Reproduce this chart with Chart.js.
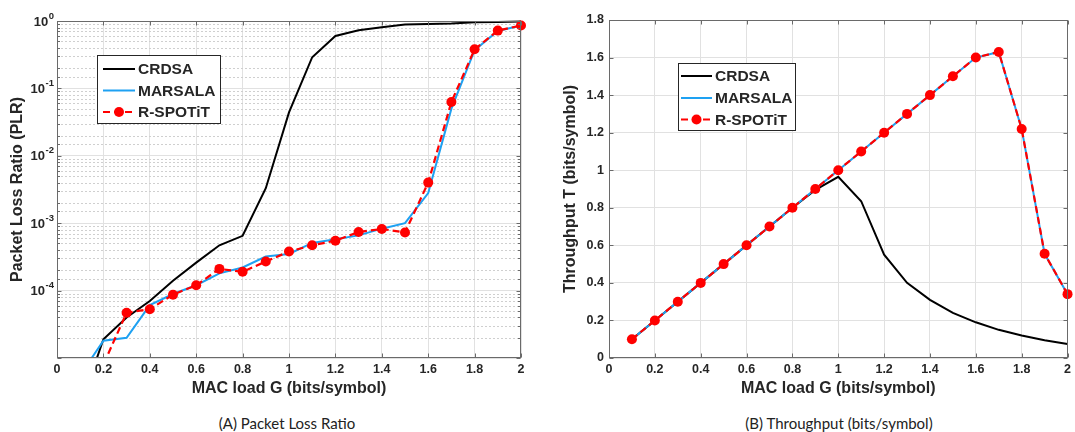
<!DOCTYPE html>
<html><head><meta charset="utf-8">
<script src="https://cdn.jsdelivr.net/npm/chart.js@4.4.1/dist/chart.umd.min.js"></script>
<style>
html,body{margin:0;padding:0;background:#fff;width:1075px;height:432px;overflow:hidden}
#wa{position:absolute;left:0;top:0;width:540px;height:400px}
#wb{position:absolute;left:540px;top:0;width:535px;height:400px}
.cap{position:absolute;top:414px;font-family:Lato,'Open Sans',sans-serif;font-size:15px;color:#222;white-space:nowrap;transform:translateX(-50%)}
</style></head>
<body>
<div id="wa"><canvas id="ca" width="540" height="400"></canvas></div>
<div id="wb"><canvas id="cb" width="535" height="400"></canvas></div>
<div class="cap" style="left:287px">(A) Packet Loss Ratio</div>
<div class="cap" style="left:839px">(B) Throughput (bits/symbol)</div>
<script>
// ---------- data ----------
const loads = [0.1,0.2,0.3,0.4,0.5,0.6,0.7,0.8,0.9,1.0,1.1,1.2,1.3,1.4,1.5,1.6,1.7,1.8,1.9,2.0];
const seriesNames = ['CRDSA','MARSALA','R-SPOTiT'];

const plrCRDSA    = [1.9e-6,1.9e-5,4.0e-5,7.0e-5,1.4e-4,2.6e-4,4.7e-4,6.5e-4,3.3e-3,0.044,0.29,0.60,0.73,0.81,0.89,0.90,0.92,0.96,0.97,0.98];
const plrMARSALA  = [5.6e-6,1.8e-5,2.0e-5,6.1e-5,8.9e-5,1.2e-4,1.8e-4,2.2e-4,3.2e-4,3.5e-4,5.1e-4,5.8e-4,6.6e-4,8.3e-4,1.0e-3,2.8e-3,0.050,0.37,0.71,0.86];
const plrRSPOTiT  = [1.0e-6,8.0e-6,4.7e-5,5.3e-5,8.7e-5,1.2e-4,2.1e-4,1.9e-4,2.7e-4,3.8e-4,4.7e-4,5.5e-4,7.4e-4,8.2e-4,7.3e-4,4.0e-3,0.063,0.38,0.72,0.86];

const thrCRDSA    = [0.1,0.2,0.3,0.4,0.5,0.6,0.7,0.8,0.895,0.965,0.835,0.55,0.40,0.31,0.24,0.19,0.15,0.12,0.095,0.075];
const thrMARSALA  = [0.1,0.2,0.3,0.4,0.5,0.6,0.7,0.8,0.9,1.0,1.1,1.2,1.3,1.4,1.5,1.6,1.63,1.22,0.555,0.34];
const thrRSPOTiT  = [0.1,0.2,0.3,0.4,0.5,0.6,0.7,0.8,0.9,1.0,1.1,1.2,1.3,1.4,1.5,1.6,1.63,1.22,0.555,0.34];

const xTickValues = [0,0.2,0.4,0.6,0.8,1,1.2,1.4,1.6,1.8,2];
const plrTickValues = [1,0.1,0.01,0.001,0.0001];
const plrTickBase = '10';
const plrTickExponents = ['0','-1','-2','-3','-4'];

// ---------- styling ----------
const FONT = "'Liberation Sans', Arial, Helvetica, sans-serif";
const TXT = '#262626';
const GRID = '#e1e1e1';

function isMajor(v){ const l = Math.log10(v); return Math.abs(l - Math.round(l)) < 1e-6; }
function numLabel(v){ return String(Number(Number(v).toFixed(1))); }
function pts(ys){ return loads.map((x,i)=>({x:x, y:ys[i]})); }

function makeDatasets(a,b,c){
  const clip = {left:0, right:8, top:8, bottom:0};
  return [
    {label:seriesNames[0], data:pts(a), borderColor:'#000000', backgroundColor:'#000000', borderWidth:2, pointRadius:0, tension:0, order:2, clip:clip},
    {label:seriesNames[1], data:pts(b), borderColor:'#1ea1f2', backgroundColor:'#1ea1f2', borderWidth:2, pointRadius:0, tension:0, order:1, clip:clip},
    {label:seriesNames[2], data:pts(c), borderColor:'#ff0000', backgroundColor:'#ff0000', borderWidth:2.2, borderDash:[7,4],
     pointRadius:5, pointStyle:'circle', pointBackgroundColor:'#ff0000', pointBorderColor:'#ff0000', pointBorderWidth:0, tension:0, order:0, clip:clip}
  ];
}

const frame = {
  id:'frame',
  beforeDatasetsDraw(chart, args, o){
    const ctx = chart.ctx, ca = chart.chartArea;
    ctx.save();
    if (o.minor){
      const s = chart.scales.y;
      ctx.strokeStyle = '#cfcfcf'; ctx.lineWidth = 1; ctx.setLineDash([2,2]);
      s.ticks.forEach(t=>{
        if (isMajor(t.value)) return;
        const y = Math.round(s.getPixelForValue(t.value)) + 0.5;
        ctx.beginPath(); ctx.moveTo(ca.left, y); ctx.lineTo(ca.right, y); ctx.stroke();
      });
      ctx.setLineDash([]);
    }
    ctx.restore();
  },
  afterDatasetsDraw(chart, args, o){
    const ctx = chart.ctx, ca = chart.chartArea;
    ctx.save();
    ctx.strokeStyle = '#6a6a6a'; ctx.lineWidth = 1;
    const L = Math.round(ca.left)+0.5, R = Math.round(ca.right)-0.5, T = Math.round(ca.top)+0.5, B = Math.round(ca.bottom)-0.5;
    ctx.strokeRect(L, T, R-L, B-T);
    const xs = chart.scales.x, ys = chart.scales.y;
    ctx.beginPath();
    xs.ticks.forEach(t=>{ const x = Math.round(xs.getPixelForValue(t.value))+0.5; ctx.moveTo(x,B); ctx.lineTo(x,B-4); ctx.moveTo(x,T); ctx.lineTo(x,T+4); });
    ys.ticks.forEach(t=>{ const len = (o.minor && !isMajor(t.value)) ? 2.5 : 4; const y = Math.round(ys.getPixelForValue(t.value))+0.5; ctx.moveTo(L,y); ctx.lineTo(L+len,y); ctx.moveTo(R,y); ctx.lineTo(R-len,y); });
    ctx.stroke();
    ctx.restore();
  },
  afterDraw(chart, args, o){
    const ctx = chart.ctx, ca = chart.chartArea;
    // power-of-ten tick labels with superscript exponent
    if (o.minor){
      const s = chart.scales.y;
      ctx.save();
      ctx.fillStyle = TXT; ctx.textBaseline = 'middle'; ctx.textAlign = 'left';
      plrTickValues.forEach((v,i)=>{
        const y = s.getPixelForValue(v);
        ctx.font = 'bold 9.5px ' + FONT;
        const ew = ctx.measureText(plrTickExponents[i]).width;
        ctx.font = 'bold 13px ' + FONT;
        const bw = ctx.measureText(plrTickBase).width;
        const right = ca.left - 3;
        const x0 = right - ew - bw - 0.5;
        ctx.fillText(plrTickBase, x0, y + 1);
        ctx.font = 'bold 9.5px ' + FONT;
        ctx.fillText(plrTickExponents[i], x0 + bw + 0.5, y - 5);
      });
      ctx.restore();
    }
    // legend box
    const lg = o.legend; if (!lg) return;
    ctx.save();
    ctx.fillStyle = '#ffffff'; ctx.fillRect(lg.x, lg.y, lg.w, lg.h);
    ctx.strokeStyle = '#262626'; ctx.lineWidth = 1;
    ctx.strokeRect(Math.round(lg.x)+0.5, Math.round(lg.y)+0.5, lg.w, lg.h);
    chart.data.datasets.forEach((ds,i)=>{
      const y = lg.rows[i];
      ctx.strokeStyle = ds.borderColor; ctx.lineWidth = ds.borderWidth;
      ctx.setLineDash(ds.borderDash || []);
      ctx.beginPath(); ctx.moveTo(lg.lx0, y); ctx.lineTo(lg.lx1, y); ctx.stroke();
      ctx.setLineDash([]);
      if (ds.pointRadius > 0){
        ctx.fillStyle = ds.pointBackgroundColor;
        ctx.beginPath(); ctx.arc((lg.lx0+lg.lx1)/2, y, ds.pointRadius, 0, Math.PI*2); ctx.fill();
      }
      ctx.fillStyle = TXT; ctx.font = 'bold 15.5px ' + FONT; ctx.textBaseline = 'middle'; ctx.textAlign = 'left';
      ctx.fillText(ds.label, lg.tx, y+1);
    });
    ctx.restore();
  }
};

function xAxis(){
  return {
    type:'linear', min:0, max:2,
    afterBuildTicks(s){ s.ticks = xTickValues.map(v=>({value:v})); },
    afterFit(s){ s.height = 42; },
    grid:{color:GRID, drawTicks:false, lineWidth:1},
    border:{display:false},
    ticks:{autoSkip:false, maxRotation:0, padding:4, color:TXT, font:{family:FONT, size:12.5, weight:'bold'}, callback:numLabel},
    title:{display:true, text:'MAC load G (bits/symbol)', color:TXT, font:{family:FONT, size:16, weight:'bold'}, padding:{top:0, bottom:2}}
  };
}

const common = {
  responsive:false, animation:false, events:[],
  plugins:{legend:{display:false}, tooltip:{enabled:false}}
};

new Chart(document.getElementById('ca'), {
  type:'line',
  data:{datasets:makeDatasets(plrCRDSA, plrMARSALA, plrRSPOTiT)},
  plugins:[frame],
  options:Object.assign({}, common, {
    layout:{padding:{left:0, top:21, right:19, bottom:0}},
    plugins:Object.assign({}, common.plugins, {
      frame:{minor:true, legend:{x:97, y:55, w:123, h:68, rows:[69,90.5,112], lx0:103, lx1:135, tx:138}}
    }),
    scales:{
      x:xAxis(),
      y:{
        type:'logarithmic', min:1e-5, max:1,
        afterFit(s){ s.width = 57; },
        grid:{color:(c)=> (c.tick && isMajor(c.tick.value)) ? GRID : 'rgba(0,0,0,0)', drawTicks:false, lineWidth:1},
        border:{display:false},
        ticks:{display:false, autoSkip:false},
        title:{display:true, text:'Packet Loss Ratio (PLR)', color:TXT, font:{family:FONT, size:16, weight:'bold'}, padding:{top:8, bottom:0}}
      }
    }
  })
});

new Chart(document.getElementById('cb'), {
  type:'line',
  data:{datasets:makeDatasets(thrCRDSA, thrMARSALA, thrRSPOTiT)},
  plugins:[frame],
  options:Object.assign({}, common, {
    layout:{padding:{left:0, top:20, right:4, bottom:0}},
    plugins:Object.assign({}, common.plugins, {
      frame:{minor:false, legend:{x:138, y:63, w:117, h:67, rows:[76,98,119.5], lx0:141, lx1:172, tx:175}}
    }),
    scales:{
      x:xAxis(),
      y:{
        type:'linear', min:0, max:1.8,
        ticks:{stepSize:0.2, autoSkip:false, padding:5, color:TXT, font:{family:FONT, size:12.5, weight:'bold'}, callback:numLabel},
        afterFit(s){ s.width = 69; },
        grid:{color:GRID, drawTicks:false, lineWidth:1},
        border:{display:false},
        title:{display:true, text:'Throughput T (bits/symbol)', color:TXT, font:{family:FONT, size:16, weight:'bold'}, padding:{top:21, bottom:0}}
      }
    }
  })
});
</script>
</body></html>
